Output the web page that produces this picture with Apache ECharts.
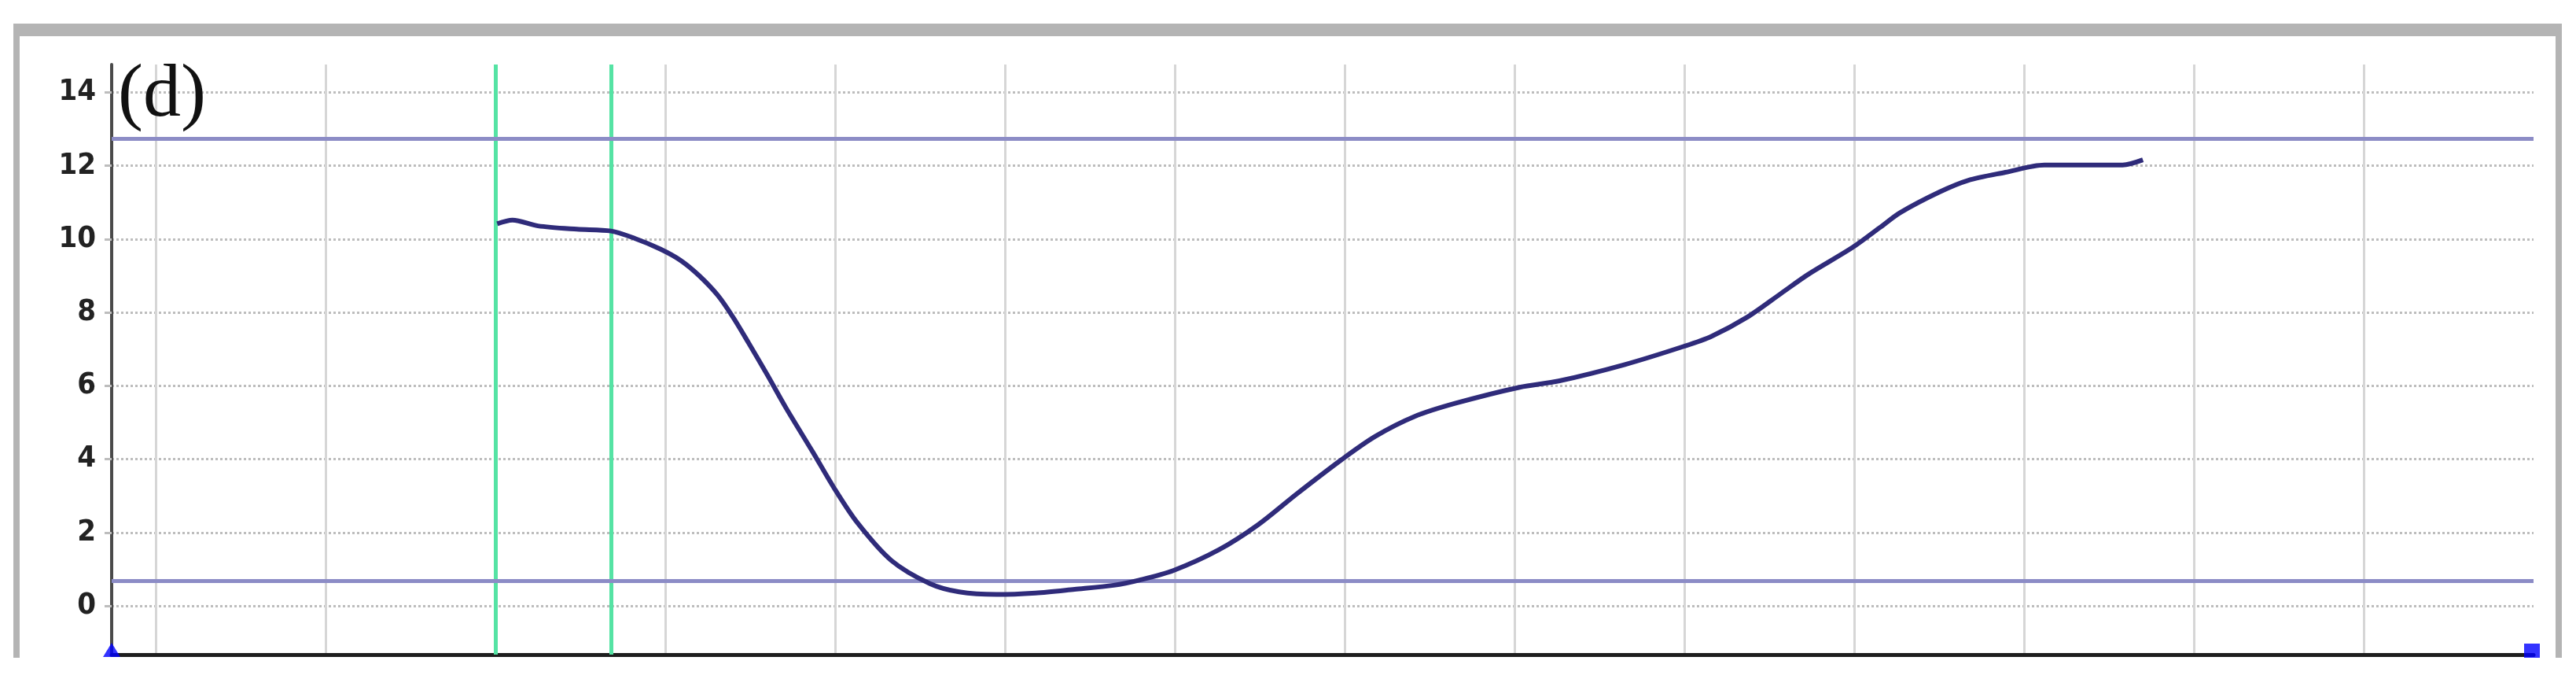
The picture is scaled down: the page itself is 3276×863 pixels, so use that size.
<!DOCTYPE html>
<html>
<head>
<meta charset="utf-8">
<title>(d)</title>
<script src="https://cdn.jsdelivr.net/npm/echarts@6/dist/echarts.min.js"></script>
<style>
html, body { margin: 0; padding: 0; background: #fff; }
#main { width: 3276px; height: 863px; }
</style>
</head>
<body>
<div id="main"></div>
<script>
// curve (x in grid units, one unit per vertical gridline)
var xVals = [2.01, 2.10, 2.25, 2.48, 2.68, 2.82, 2.97, 3.09, 3.20, 3.31, 3.40, 3.49, 3.60, 3.71, 3.87,
  3.99, 4.13, 4.33, 4.56, 4.73, 4.95, 5.18, 5.41, 5.64, 5.79, 5.99, 6.26, 6.49, 6.72, 6.98,
  7.18, 7.41, 7.65, 8.03, 8.26, 8.65, 9.00, 9.16, 9.37, 9.57, 9.73, 9.99, 10.15, 10.27, 10.50,
  10.67, 10.89, 11.12, 11.35, 11.58, 11.70];
var yVals = [10.42, 10.52, 10.36, 10.27, 10.22, 10.02, 9.73, 9.42, 9.00, 8.46, 7.86, 7.17, 6.30, 5.40, 4.18,
  3.24, 2.27, 1.24, 0.60, 0.38, 0.31, 0.35, 0.45, 0.56, 0.70, 0.96, 1.53, 2.21, 3.06, 3.98,
  4.62, 5.16, 5.52, 5.96, 6.13, 6.58, 7.08, 7.35, 7.87, 8.52, 9.04, 9.77, 10.31, 10.72, 11.28,
  11.60, 11.82, 12.02, 12.02, 12.02, 12.16];

// tick values
var yTicks = [0, 2, 4, 6, 8, 10, 12, 14];
var xTicks = [0, 1, 2, 3, 4, 5, 6, 7, 8, 9, 10, 11, 12, 13];

// cursors (green) and limit lines (blue)
var cursorX = [2.0, 2.68];
var limitY = [12.73, 0.68];

// axis extents
var xMin = -0.26, xMax = 14;
var yMin = -1.33, yMax = 14.76;

var chart = echarts.init(document.getElementById('main'));

var curve = [];
for (var i = 0; i < xVals.length; i++) {
  curve.push([xVals[i], yVals[i]]);
}

var markLines = [];
cursorX.forEach(function (v) {
  markLines.push({ xAxis: v, lineStyle: { color: '#55e3a4', width: 5, type: 'solid' } });
});
limitY.forEach(function (v) {
  markLines.push({ yAxis: v, lineStyle: { color: '#8c8cc6', width: 5, type: 'solid' } });
});

var option = {
  backgroundColor: '#fff',
  animation: false,
  grid: {
    left: 142,
    right: 54,
    top: 82,
    bottom: 31,
    containLabel: false,
    outerBoundsMode: 'none'
  },
  graphic: [
    // grey window frame
    { type: 'rect', shape: { x: 17, y: 30, width: 3241, height: 16 }, style: { fill: '#b4b4b4' }, silent: true },
    { type: 'rect', shape: { x: 17, y: 30, width: 8, height: 806 }, style: { fill: '#b4b4b4' }, silent: true },
    { type: 'rect', shape: { x: 3250, y: 30, width: 8, height: 806 }, style: { fill: '#b4b4b4' }, silent: true },
    {
      type: 'text',
      left: 150,
      top: 74,
      style: { text: '(d)', font: '96px "Liberation Serif", "Times New Roman", serif', fill: '#111' },
      silent: true,
      z: 10
    }
  ],
  xAxis: {
    type: 'value',
    min: xMin,
    max: xMax,
    minInterval: 1,
    maxInterval: 1,
    axisLine: {
      show: true,
      onZero: false,
      lineStyle: { color: '#1e1e1e', width: 5 }
    },
    axisTick: { show: false, customValues: xTicks },
    axisLabel: { show: false },
    splitLine: {
      show: true,
      lineStyle: { color: '#d6d6d6', width: 3, type: 'solid' }
    }
  },
  yAxis: {
    type: 'value',
    min: yMin,
    max: yMax,
    minInterval: 2,
    maxInterval: 2,
    axisLine: {
      show: true,
      onZero: false,
      lineStyle: { color: '#4a4a4a', width: 4 }
    },
    axisTick: {
      show: true,
      length: 9,
      customValues: yTicks,
      lineStyle: { color: '#bdbdbd', width: 3 }
    },
    axisLabel: {
      customValues: yTicks,
      margin: 20,
      color: '#222',
      fontSize: 38,
      fontWeight: 'bold',
      fontFamily: '"Liberation Sans Narrow", "DejaVu Sans Condensed", sans-serif'
    },
    splitLine: {
      show: true,
      lineStyle: { color: '#bdbdbd', width: 3, type: [3, 3] }
    }
  },
  series: [
    {
      name: 'curve',
      type: 'line',
      data: curve,
      smooth: 0.3,
      showSymbol: false,
      lineStyle: { color: '#2f2b7a', width: 6 },
      markLine: {
        silent: true,
        symbol: 'none',
        label: { show: false },
        data: markLines
      },
      z: 5
    },
    {
      // slider handles at both ends of the x axis
      name: 'handles',
      type: 'scatter',
      clip: false,
      silent: true,
      data: [
        { value: [xMin, yMin], symbol: 'triangle', symbolSize: [22, 18], symbolOffset: [0, -6] },
        { value: [xMax, yMin], symbol: 'rect', symbolSize: [20, 18], symbolOffset: [-2, -5] }
      ],
      itemStyle: { color: '#0000ff' },
      z: 20
    }
  ]
};

chart.setOption(option);
</script>
</body>
</html>
